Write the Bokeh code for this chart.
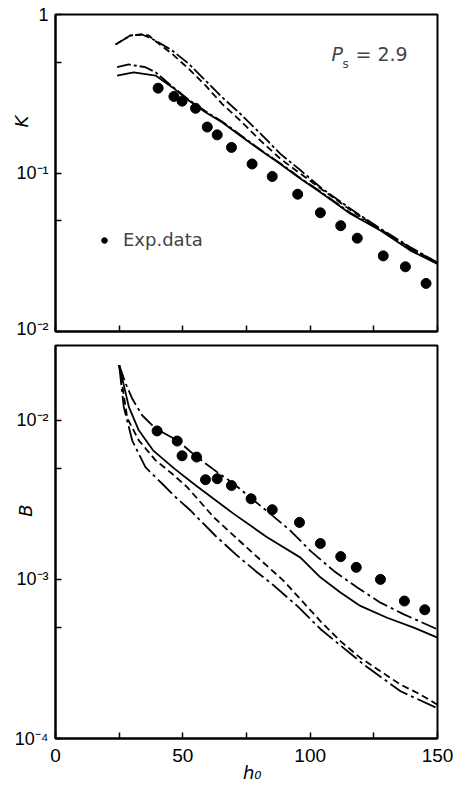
from bokeh.plotting import figure
from bokeh.models import (Range1d, FixedTicker, CustomJSTickFormatter, Label,
                          Legend, LegendItem)
from bokeh.layouts import column
from bokeh.embed import file_html
from bokeh.resources import INLINE

# ---------------- data: top panel (K) ----------------
k_exp_x = [40.3, 46.5, 49.7, 55.0, 59.6, 63.5, 69.1, 77.2, 85.1, 95.1, 104.0, 112.0, 118.5, 128.7, 137.4, 145.5]
k_exp_y = [0.343, 0.304, 0.284, 0.256, 0.195, 0.174, 0.145, 0.114, 0.095, 0.0735, 0.0561, 0.0465, 0.0388, 0.030, 0.0256, 0.0201]

k1_x = [23.6, 29.4, 34.0, 39.3, 45.8, 52.3, 58.9, 65.4, 72.6, 80.5, 88.3, 96.2, 104.0, 115.8, 127.6, 139.4, 150]
k1_y = [0.647, 0.737, 0.748, 0.685, 0.593, 0.489, 0.383, 0.301, 0.236, 0.177, 0.132, 0.104, 0.0813, 0.0594, 0.0445, 0.034, 0.0272]

k2_x = [23.6, 29.4, 34.0, 36.6, 40.6, 45.8, 52.3, 58.9, 65.4, 72.6, 80.5, 88.3, 96.2, 104.0, 115.8, 127.6, 139.4, 150]
k2_y = [0.647, 0.737, 0.748, 0.737, 0.653, 0.565, 0.454, 0.357, 0.273, 0.214, 0.160, 0.123, 0.0989, 0.0800, 0.0585, 0.0440, 0.0337, 0.0270]

k3_x = [24.2, 28.8, 35.3, 39.3, 45.8, 52.3, 58.9, 65.4, 72.6, 80.5, 88.3, 96.2, 104.0, 115.8, 127.6, 139.4, 150]
k3_y = [0.465, 0.484, 0.465, 0.432, 0.352, 0.290, 0.245, 0.211, 0.174, 0.140, 0.115, 0.0928, 0.0764, 0.0560, 0.0440, 0.0330, 0.0269]

k4_x = [24.2, 30.7, 39.3, 45.8, 52.3, 58.9, 65.4, 72.6, 80.5, 88.3, 96.2, 104.0, 115.8, 127.6, 139.4, 150]
k4_y = [0.412, 0.432, 0.412, 0.348, 0.287, 0.242, 0.209, 0.172, 0.139, 0.114, 0.0919, 0.0756, 0.0553, 0.0434, 0.0324, 0.0267]

# ---------------- data: bottom panel (B) ----------------
b_exp_x = [39.9, 47.8, 49.7, 55.4, 58.9, 63.5, 69.1, 76.8, 85.1, 95.8, 104.0, 112.0, 118.1, 127.6, 137.0, 145.0]
b_exp_y = [0.00857, 0.0074, 0.00598, 0.00587, 0.00423, 0.00429, 0.00389, 0.00321, 0.00274, 0.00228, 0.00168, 0.00139, 0.00119, 0.0010, 0.000731, 0.000644]

b1_x = [25.0, 27.5, 30.1, 34.0, 39.3, 47.8, 55.6, 63.5, 70.0, 77.9, 84.4, 92.3, 100.1, 109.3, 118.5, 127.6, 136.8, 150]
b1_y = [0.0222, 0.0171, 0.0137, 0.01075, 0.00887, 0.00748, 0.00586, 0.00472, 0.00399, 0.00313, 0.00258, 0.00202, 0.00151, 0.00113, 0.000888, 0.000714, 0.000603, 0.000485]

b2_x = [25.0, 28.8, 32.7, 38.3, 46.8, 55.0, 70.0, 83.1, 96.2, 104.0, 111.9, 119.7, 130.2, 140.7, 150]
b2_y = [0.0222, 0.01213, 0.00865, 0.00647, 0.00495, 0.0039, 0.00258, 0.00184, 0.00137, 0.00103, 0.000826, 0.000681, 0.000574, 0.000497, 0.00043]

b3_x = [25.0, 28.2, 32.7, 39.3, 45.8, 51.7, 62.2, 75.6, 83.7, 89.6, 104.0, 111.9, 119.7, 127.6, 135.5, 143.3, 150]
b3_y = [0.0222, 0.0103, 0.00748, 0.0056, 0.00461, 0.0038, 0.00245, 0.00156, 0.00119, 0.000979, 0.000547, 0.000409, 0.000321, 0.000265, 0.000218, 0.000189, 0.000163]

b4_x = [25.0, 26.8, 30.1, 35.3, 41.9, 46.4, 53.0, 62.8, 70.7, 78.5, 85.1, 94.9, 104.0, 121.0, 135.5, 150]
b4_y = [0.0222, 0.01213, 0.00748, 0.00507, 0.00399, 0.00337, 0.00271, 0.00188, 0.00144, 0.00113, 0.000933, 0.000681, 0.000488, 0.000292, 0.000198, 0.000155]

x_major = [0, 50, 100, 150]
x_minor = [25, 75, 125]
k_major = [0.01, 0.1, 1]
k_minor = [0.05, 0.5]
b_major = [0.0001, 0.001, 0.01]
b_minor = [0.0005, 0.005]

FONT = "DejaVu Sans"
NUMFONT = "Liberation Sans"
NB = "\u00a0"

sup_code = """
const e = Math.round(Math.log10(tick));
if (e === 0) { return "1"; }
const sup = {"-": "\\u207b", "0": "\\u2070", "1": "\\u00b9", "2": "\\u00b2", "3": "\\u00b3", "4": "\\u2074"};
return "10" + String(e).split("").map(c => sup[c]).join("");
"""
blank_code = 'return "";'


def style(p, ymajor, yminor, show_xlabels):
    p.outline_line_color = "black"
    p.outline_line_width = 2
    p.outline_line_alpha = 1.0
    p.grid.visible = False
    p.background_fill_color = "white"
    p.border_fill_color = "white"
    xa = p.xaxis[0]
    xa.ticker = FixedTicker(ticks=x_major, minor_ticks=x_minor)
    xa.axis_line_width = 2
    xa.major_tick_in = 6
    xa.major_tick_out = 0
    xa.minor_tick_in = 6
    xa.minor_tick_out = 0
    xa.major_tick_line_width = 1.5
    xa.minor_tick_line_width = 1.5
    xa.major_label_text_font = NUMFONT
    xa.major_label_text_color = "black"
    if show_xlabels:
        xa.major_label_text_font_size = "19px"
        xa.major_label_standoff = 10
    else:
        xa.formatter = CustomJSTickFormatter(code=blank_code)
        xa.major_label_text_font_size = "1px"
        xa.major_label_standoff = 0
    ya = p.yaxis[0]
    ya.ticker = FixedTicker(ticks=ymajor, minor_ticks=yminor)
    ya.formatter = CustomJSTickFormatter(code=sup_code)
    ya.axis_line_width = 2
    ya.major_tick_in = 6
    ya.major_tick_out = 0
    ya.minor_tick_in = 6
    ya.minor_tick_out = 0
    ya.major_tick_line_width = 1.5
    ya.minor_tick_line_width = 1.5
    ya.major_label_text_font = NUMFONT
    ya.major_label_text_font_size = "18px"
    ya.major_label_text_color = "black"
    ya.major_label_standoff = 7
    ya.axis_label_text_font = FONT
    ya.axis_label_text_font_size = "18px"
    ya.axis_label_text_font_style = "italic"
    ya.axis_label_text_color = "black"
    ya.axis_label_standoff = -19


# ---------------- top figure ----------------
top = figure(width=458, height=338, output_backend="svg", toolbar_location=None,
             x_range=Range1d(0, 150), y_range=Range1d(0.01, 1), y_axis_type="log",
             min_border_left=55, min_border_right=21, min_border_top=14, min_border_bottom=7)
style(top, k_major, k_minor, False)
top.yaxis[0].axis_label = NB * 18 + "K"

top.line(k1_x, k1_y, line_color="black", line_width=1.8, line_dash="14 3 3 3")
top.line(k2_x, k2_y, line_color="black", line_width=1.8, line_dash="7 4")
top.line(k3_x, k3_y, line_color="black", line_width=1.8, line_dash="14 3 3 3")
top.line(k4_x, k4_y, line_color="black", line_width=1.8)
dots = top.scatter(k_exp_x, k_exp_y, size=10, color="black", marker="circle")

legend = Legend(items=[LegendItem(label="Exp.data", renderers=[dots])],
                location=(42, 81), border_line_color=None, background_fill_alpha=0,
                padding=0, margin=0, label_standoff=12, glyph_width=14, glyph_height=14,
                label_text_font=FONT, label_text_font_size="18px", spacing=0)
top.add_layout(legend)

top.add_layout(Label(x=276, y=278, x_units="screen", y_units="screen", text="P",
                     text_font=FONT, text_font_size="19px", text_font_style="italic",
                     text_baseline="middle"))
top.add_layout(Label(x=287, y=268, x_units="screen", y_units="screen", text="s",
                     text_font=FONT, text_font_size="12px",
                     text_baseline="middle"))
top.add_layout(Label(x=300, y=278, x_units="screen", y_units="screen", text="= 2.9",
                     text_font=FONT, text_font_size="19px",
                     text_baseline="middle"))

# ---------------- bottom figure ----------------
bot = figure(width=458, height=451, output_backend="svg", toolbar_location=None,
             x_range=Range1d(0, 150), y_range=Range1d(0.0001, 0.0295), y_axis_type="log",
             min_border_left=55, min_border_right=21, min_border_top=7, min_border_bottom=51)
style(bot, b_major, b_minor, True)
bot.yaxis[0].axis_label = NB * 11 + "B"
bot.yaxis[0].axis_label_standoff = -24
xa = bot.xaxis[0]
xa.axis_label = NB * 2 + "h\u2080"
xa.axis_label_text_font = FONT
xa.axis_label_text_font_size = "18px"
xa.axis_label_text_font_style = "italic"
xa.axis_label_text_color = "black"
xa.axis_label_standoff = -3

bot.line(b1_x, b1_y, line_color="black", line_width=1.8, line_dash="16 4 3 4")
bot.line(b2_x, b2_y, line_color="black", line_width=1.8)
bot.line(b3_x, b3_y, line_color="black", line_width=1.8, line_dash="7 4")
bot.line(b4_x, b4_y, line_color="black", line_width=1.8, line_dash="20 4 3 4")
bot.scatter(b_exp_x, b_exp_y, size=10, color="black", marker="circle")

layout = column(top, bot, spacing=0)
open("out.html", "w").write(file_html(layout, INLINE))
